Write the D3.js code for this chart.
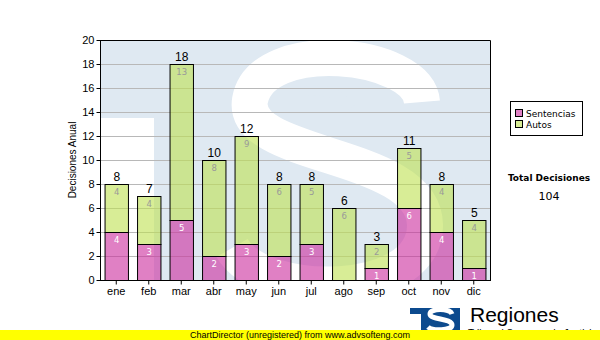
<!DOCTYPE html>
<html><head><meta charset="utf-8">
<script src="https://cdn.jsdelivr.net/npm/d3@7"></script>
<style>body{margin:0;background:#fff}svg{display:block}</style>
</head><body>
<svg id="c" width="600" height="340"></svg>
<script>
const months = ["ene","feb","mar","abr","may","jun","jul","ago","sep","oct","nov","dic"];
const sentencias = [4,3,5,2,3,2,3,0,1,6,4,1];
const autos = [4,4,13,8,9,6,5,6,2,5,4,4];
const seriesNames = ["Sentencias","Autos"];
const yTicks = [0,2,4,6,8,10,12,14,16,18,20];
const totalLabel = "Total Decisiones";

const svg = d3.select("#c");
const L=100,R=490,T=40,B=280;
const x = d3.scaleBand().domain(months).range([L,R]).paddingInner(0.28).paddingOuter(0.14);
const y = d3.scaleLinear().domain([0,20]).range([B,T]);

// plot background + watermark
svg.append("defs").append("clipPath").attr("id","pc").append("rect").attr("x",L).attr("y",T).attr("width",R-L).attr("height",B-T);
const bg = svg.append("g").attr("clip-path","url(#pc)");
bg.append("rect").attr("x",L).attr("y",T).attr("width",R-L).attr("height",B-T).attr("fill","#dfe9f2");
bg.append("rect").attr("x",L).attr("y",118).attr("width",54).attr("height",170).attr("fill","#fff");
bg.append("path").attr("d","M422 102 C418 52 262 36 250 100 C240 160 424 150 425 225 C426 300 262 300 232 248")
  .attr("fill","none").attr("stroke","#fff").attr("stroke-width",36);
bg.append("path").attr("d","M300 92 C330 85 345 100 350 108").attr("fill","none").attr("stroke","#dfe9f2").attr("stroke-width",10);

// grid
svg.append("g").selectAll("line").data(yTicks.filter(d=>d>0&&d<20)).join("line")
  .attr("x1",L).attr("x2",R).attr("y1",d=>y(d)+0.5).attr("y2",d=>y(d)+0.5)
  .attr("stroke","#b8b8b8").attr("stroke-width",1);

// bars
const colors = {s:"rgb(203,43,157)", a:"rgb(190,225,80)"};
const g = svg.append("g");
months.forEach((m,i)=>{
  const s=sentencias[i], a=autos[i];
  if(s>0) g.append("rect").attr("x",x(m)+0.5).attr("y",y(s)+0.5).attr("width",x.bandwidth()).attr("height",y(0)-y(s))
    .attr("fill",colors.s).attr("fill-opacity",0.6).attr("stroke","#000");
  g.append("rect").attr("x",x(m)+0.5).attr("y",y(s+a)+0.5).attr("width",x.bandwidth()).attr("height",y(s)-y(s+a))
    .attr("fill",colors.a).attr("fill-opacity",0.6).attr("stroke","#000");
  const cx = x(m)+x.bandwidth()/2+0.5;
  if(s>0) g.append("text").attr("x",cx).attr("y",y(s)+11).attr("text-anchor","middle")
    .attr("font-family","DejaVu Sans").attr("font-size",8.5).attr("fill","#fff").text(s);
  g.append("text").attr("x",cx).attr("y",y(s+a)+11).attr("text-anchor","middle")
    .attr("font-family","DejaVu Sans").attr("font-size",8.5).attr("fill","#999").text(a);
  g.append("text").attr("x",cx).attr("y",y(s+a)-3).attr("text-anchor","middle")
    .attr("font-family","Liberation Sans").attr("font-size",12).attr("fill","#000").text(s+a);
});

// border
svg.append("path").attr("d",`M${L+0.5},${B} V${T+0.5} H${R+0.5} V${B}`).attr("fill","none").attr("stroke","#000");

// axes
const ya = svg.append("g").attr("transform",`translate(${L+0.5},0)`)
  .call(d3.axisLeft(y).tickValues(yTicks).tickSize(4).tickPadding(2));
const xa = svg.append("g").attr("transform",`translate(0,${B+0.5})`)
  .call(d3.axisBottom(x).tickSize(4).tickPadding(3));
[ya,xa].forEach(a=>{a.selectAll("text").attr("font-family","Liberation Sans").attr("font-size",11).attr("fill","#000");
  a.selectAll("path,line").attr("stroke","#000");});
ya.select(".domain").attr("d",`M0,${T}V${B+0.5}`);
xa.select(".domain").attr("d",`M${L},0H${R+1}`);

svg.append("text").attr("transform",`translate(76,${(T+B)/2}) rotate(-90)`).attr("text-anchor","middle")
  .attr("font-family","Liberation Sans").attr("font-size",10).text("Decisiones Anual");

// legend
svg.append("rect").attr("x",510.5).attr("y",101.5).attr("width",72).attr("height",34).attr("fill","#fff").attr("stroke","#000");
[["s",0],["a",1]].forEach(([k,i])=>{
  svg.append("rect").attr("x",515.5).attr("y",109.5+i*11).attr("width",7).attr("height",7)
    .attr("fill",colors[k]).attr("fill-opacity",0.6).attr("stroke","#000");
  svg.append("text").attr("x",526).attr("y",117+i*11).attr("font-family","DejaVu Sans").attr("font-size",9)
    .attr("fill","#000").text(seriesNames[i]);
});
svg.append("text").attr("x",549).attr("y",181).attr("text-anchor","middle").attr("font-family","DejaVu Sans")
  .attr("font-weight","bold").attr("font-size",9).text(totalLabel);
svg.append("text").attr("x",549).attr("y",200).attr("text-anchor","middle").attr("font-family","DejaVu Sans")
  .attr("font-size",11).text(d3.sum(sentencias)+d3.sum(autos));

// logo
svg.append("rect").attr("x",410).attr("y",308).attr("width",50).attr("height",24).attr("fill","#0c4a8e");
svg.append("rect").attr("x",410).attr("y",314).attr("width",11).attr("height",20).attr("fill","#fff");
svg.append("path").attr("d","M452 314 C450 308 430 308 430 314 C430 320 452 318 452 325 C452 331 432 331 428 327")
  .attr("fill","none").attr("stroke","#fff").attr("stroke-width",5);
svg.append("text").attr("x",470).attr("y",322).attr("font-family","Liberation Sans").attr("font-size",21).text("Regiones");
svg.append("text").attr("x",468).attr("y",337).attr("font-family","Liberation Sans").attr("font-size",10).text("Tribunal Supremo de Justicia");

// footer
svg.append("rect").attr("x",0).attr("y",330).attr("width",600).attr("height",10).attr("fill","#ffff00");
svg.append("text").attr("x",300).attr("y",338).attr("text-anchor","middle").attr("font-family","Liberation Sans")
  .attr("font-size",9).text("ChartDirector (unregistered) from www.advsofteng.com");
</script>
</body></html>
